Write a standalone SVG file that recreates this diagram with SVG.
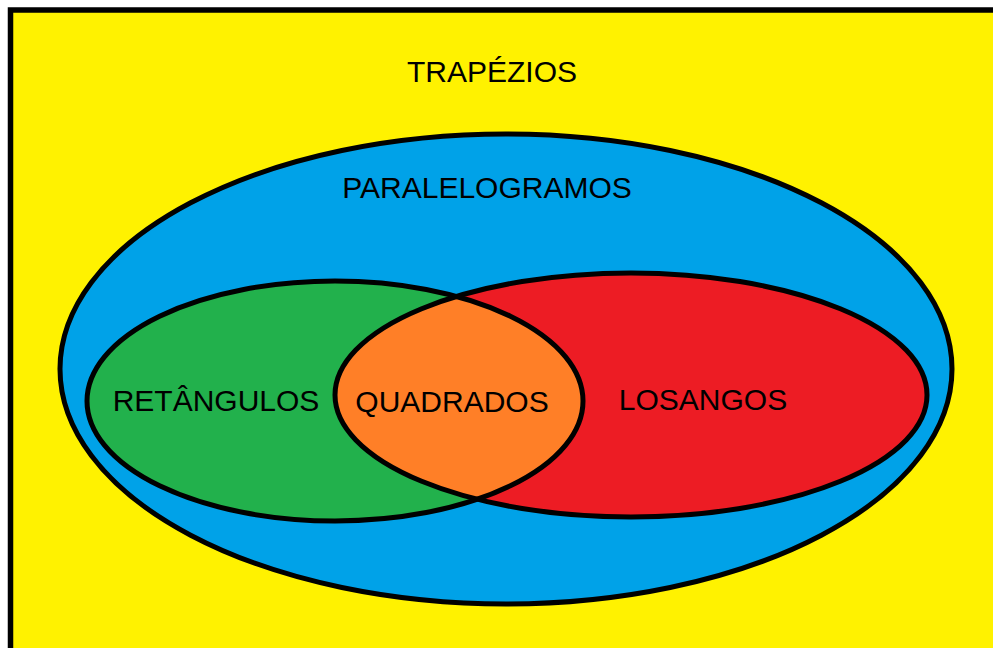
<svg xmlns="http://www.w3.org/2000/svg" width="993" height="648" viewBox="0 0 993 648">
<style>
.s{stroke:#000;stroke-width:5}
.t{font-family:"Liberation Sans",Arial,sans-serif;font-size:30px;fill:#000;text-anchor:middle}
</style>
<rect width="993" height="648" fill="#fff"/>
<g id="trapezios">
<rect x="10.5" y="10" width="1000" height="700" fill="#FFF200" stroke="#000" stroke-width="5.5"/>
<text class="t" x="492" y="82">TRAPÉZIOS</text>
</g>
<g id="paralelogramos">
<ellipse class="s" cx="506" cy="369" rx="446" ry="235" fill="#00A2E8"/>
<text class="t" x="487" y="198">PARALELOGRAMOS</text>
</g>
<defs>
<clipPath id="cg"><ellipse cx="335" cy="401" rx="248" ry="120"/></clipPath>
</defs>
<g id="retangulos">
<ellipse cx="335" cy="401" rx="248" ry="120" fill="#22B14C"/>
</g>
<g id="losangos">
<ellipse cx="631" cy="395" rx="296" ry="122" fill="#ED1C24"/>
</g>
<g id="quadrados">
<ellipse cx="631" cy="395" rx="296" ry="122" fill="#FF7F27" clip-path="url(#cg)"/>
</g>
<g id="outlines" fill="none">
<ellipse class="s" cx="335" cy="401" rx="248" ry="120"/>
<ellipse class="s" cx="631" cy="395" rx="296" ry="122"/>
</g>
<g id="labels">
<text class="t" x="216" y="411">RETÂNGULOS</text>
<text class="t" x="452" y="412">QUADRADOS</text>
<text class="t" x="703" y="410">LOSANGOS</text>
</g>
</svg>
